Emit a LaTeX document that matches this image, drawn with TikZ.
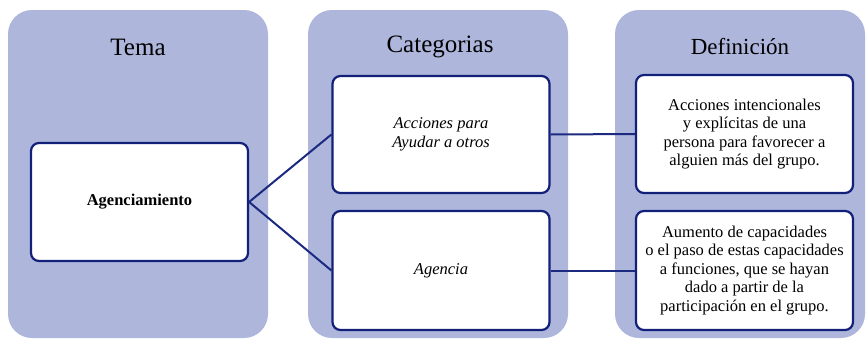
\documentclass[tikz,border=0pt]{standalone}
\usepackage{fontspec}
\setmainfont{Liberation Serif}
\definecolor{panelfill}{HTML}{AEB6DC}
\definecolor{navy}{HTML}{13207A}
\definecolor{connline}{HTML}{1B2A80}
\begin{document}
\begin{tikzpicture}[x=1pt,y=-1pt,
  panel/.style={fill=panelfill, draw=none, rounded corners=24pt, minimum width=260pt, minimum height=328pt, inner sep=0pt},
  box/.style={draw=navy, line width=2.2pt, fill=white, rounded corners=8pt, minimum width=217pt, minimum height=118pt, inner sep=2pt, align=center, font=\fontsize{16.5}{18.5}\selectfont},
  ttl/.style={font=\fontsize{25}{29}\selectfont, inner sep=0pt},
  conn/.style={draw=connline, line width=2pt}]
\useasboundingbox (0,0) rectangle (866,340);
\node[panel] (p1) at (138,174) {};
\node[panel] (p2) at (438,174) {};
\node[panel, minimum width=250pt] (p3) at (740,174) {};
\node[ttl] (t1) at (138,47) {Tema};
\node[ttl] (t2) at (440,47) {Categorias};
\node[ttl, font=\fontsize{23}{27}\selectfont] (t3) at (740,47) {Definición};
\node[box] (agen) at (139.5,202) {\textbf{Agenciamiento}};
\node[box, minimum height=117pt] (cat1) at (441,134.5) {\itshape Acciones para\\\itshape Ayudar a otros};
\node[box, minimum height=119pt] (cat2) at (441,270.5) {\itshape Agencia};
\node[box, minimum height=118pt] (def1) at (744.5,134) {Acciones intencionales\\y explícitas de una\\persona para favorecer a\\alguien más del grupo.};
\node[box, minimum height=119pt] (def2) at (744.5,270.5) {Aumento de capacidades\\o el paso de estas capacidades\\a funciones, que se hayan\\dado a partir de la\\participación en el grupo.};
\draw[conn] (agen.east) -- (cat1.west);
\draw[conn] (agen.east) -- (cat2.west);
\draw[conn] (cat1.east) -- (def1.west);
\draw[conn] (cat2.east) -- (def2.west);
\end{tikzpicture}
\end{document}
